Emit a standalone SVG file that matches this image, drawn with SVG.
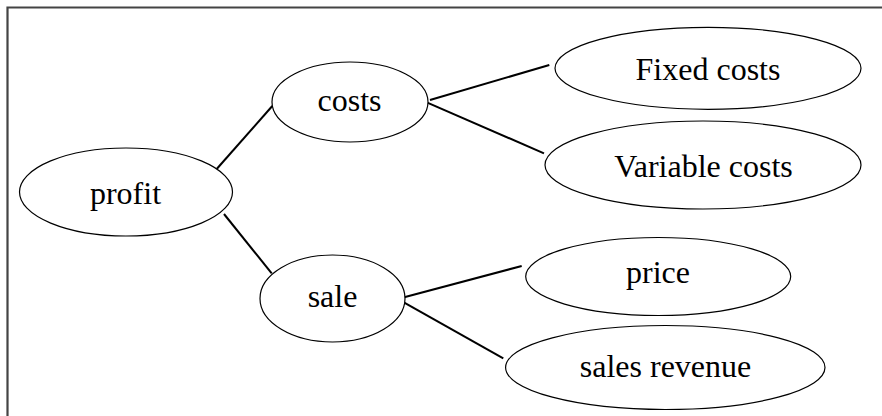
<svg xmlns="http://www.w3.org/2000/svg" width="882" height="416" viewBox="0 0 882 416">
<style>
.n ellipse{fill:#fff;stroke:#000;stroke-width:1.2}
.n text{font-size:32px;fill:#000;text-anchor:middle}
#edges line{stroke:#000;stroke-width:2;stroke-linecap:butt}
</style>
<rect x="0" y="0" width="882" height="416" fill="#fff"/>
<path d="M7.5 420 V7.5 H890" fill="none" stroke="#444" stroke-width="2.2"/>
<g id="edges">
<line x1="216.7" y1="169" x2="272.3" y2="106"/>
<line x1="224" y1="214" x2="271.7" y2="273.3"/>
<line x1="430" y1="100" x2="549.3" y2="65"/>
<line x1="427.3" y1="102.7" x2="544" y2="153.3"/>
<line x1="402.3" y1="297.7" x2="521.7" y2="266"/>
<line x1="400.7" y1="300.7" x2="503.3" y2="358.3"/>
</g>
<g font-family="'Liberation Serif', 'DejaVu Serif', serif">
<g id="profit" class="n"><ellipse cx="126" cy="192" rx="106.5" ry="44"/><text x="125.5" y="204.3">profit</text></g>
<g id="costs" class="n"><ellipse cx="350" cy="102" rx="78" ry="40"/><text x="349.5" y="110.7">costs</text></g>
<g id="sale" class="n"><ellipse cx="332.5" cy="298.5" rx="72.5" ry="43.5"/><text x="332.5" y="307">sale</text></g>
<g id="fixed" class="n"><ellipse cx="708" cy="68.3" rx="153" ry="41"/><text x="708" y="80">Fixed costs</text></g>
<g id="variable" class="n"><ellipse cx="703" cy="165" rx="158" ry="44"/><text x="703.5" y="176.7">Variable costs</text></g>
<g id="price" class="n"><ellipse cx="658.2" cy="276.5" rx="132.5" ry="39"/><text x="658" y="283.3">price</text></g>
<g id="revenue" class="n"><ellipse cx="665.3" cy="367.5" rx="159.7" ry="42"/><text x="665.5" y="376.7">sales revenue</text></g>
</g>
</svg>
